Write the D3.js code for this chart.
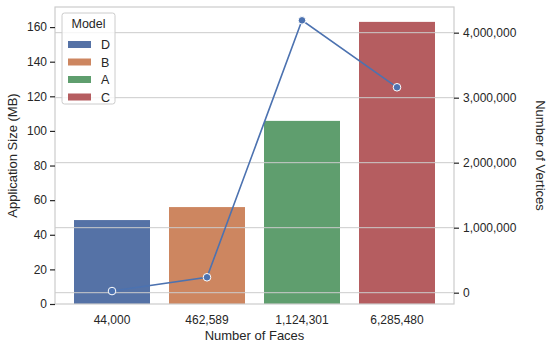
<!DOCTYPE html>
<html>
<head>
<meta charset="utf-8">
<script src="https://cdn.jsdelivr.net/npm/d3@7"></script>
<style>
  body { margin: 0; background: #fff; }
  text { font-family: Arial, "Liberation Sans", sans-serif; fill: #262626; }
</style>
</head>
<body>
<div id="chart"></div>
<script>
// ── Data ─────────────────────────────────────────────────────────────
const faces    = ["44,000", "462,589", "1,124,301", "6,285,480"];
const models   = ["D", "B", "A", "C"];
const sizeMB   = [48.5, 56, 105.8, 163];
const vertices = [25000, 237000, 4190000, 3160000];
const leftTicks  = [0, 20, 40, 60, 80, 100, 120, 140, 160];
const rightTicks = [0, 1000000, 2000000, 3000000, 4000000];
const barColors  = ["#5572a6", "#cd8660", "#5f9e6e", "#b55d60"];

const W = 550, H = 345;
const plot = { left: 55, right: 454, top: 7, bottom: 304 };

const svg = d3.select("#chart").append("svg")
  .attr("width", W).attr("height", H);

// ── Scales ───────────────────────────────────────────────────────────
const x = d3.scaleLinear().domain([-0.6, 3.6]).range([plot.left, plot.right]);
const step = x(1) - x(0);
const yL = d3.scaleLinear().domain([0, 171.6]).range([plot.bottom, plot.top]);
const yR = d3.scaleLinear().domain([-174000, 4395000]).range([plot.bottom, plot.top]);

// ── Bars ─────────────────────────────────────────────────────────────
svg.append("g").selectAll("rect")
  .data(sizeMB)
  .join("rect")
    .attr("x", (d, i) => x(i) - step * 0.4)
    .attr("width", step * 0.8)
    .attr("y", d => yL(d))
    .attr("height", d => yL(0) - yL(d))
    .attr("fill", (d, i) => barColors[i]);

// ── Right-axis grid (drawn over the bars) ────────────────────────────
svg.append("g").selectAll("line")
  .data(rightTicks)
  .join("line")
    .attr("x1", plot.left).attr("x2", plot.right)
    .attr("y1", d => yR(d)).attr("y2", d => yR(d))
    .attr("stroke", "#cccccc").attr("stroke-width", 1);

// ── Frame ────────────────────────────────────────────────────────────
svg.append("rect")
  .attr("x", plot.left).attr("y", plot.top)
  .attr("width", plot.right - plot.left)
  .attr("height", plot.bottom - plot.top)
  .attr("fill", "none")
  .attr("stroke", "#cccccc").attr("stroke-width", 1.2);

// ── Line ─────────────────────────────────────────────────────────────
const line = d3.line().x((d, i) => x(i)).y(d => yR(d));
svg.append("path")
  .datum(vertices)
  .attr("d", line)
  .attr("fill", "none")
  .attr("stroke", "#4c72b0")
  .attr("stroke-width", 1.6);

svg.append("g").selectAll("circle")
  .data(vertices)
  .join("circle")
    .attr("cx", (d, i) => x(i))
    .attr("cy", d => yR(d))
    .attr("r", 3.8)
    .attr("fill", "#4c72b0")
    .attr("stroke", "#ffffff")
    .attr("stroke-width", 1);

// ── Axes ─────────────────────────────────────────────────────────────
function styleAxis(g) {
  g.select(".domain").remove();
  g.selectAll(".tick line").attr("stroke", "#262626").attr("stroke-width", 1.2);
  g.selectAll(".tick text").attr("font-size", "12px").attr("fill", "#262626");
}

svg.append("g")
  .attr("transform", `translate(${plot.left},0)`)
  .call(d3.axisLeft(yL).tickValues(leftTicks).tickSize(5).tickPadding(3))
  .call(styleAxis);

svg.append("g")
  .attr("transform", `translate(${plot.right},0)`)
  .call(d3.axisRight(yR).tickValues(rightTicks).tickSize(5).tickPadding(4)
    .tickFormat(d3.format(",")))
  .call(styleAxis);

svg.append("g").selectAll("text")
  .data(faces)
  .join("text")
    .attr("x", (d, i) => x(i))
    .attr("y", 324)
    .attr("text-anchor", "middle")
    .attr("font-size", "12px")
    .text(d => d);

// ── Axis titles ──────────────────────────────────────────────────────
svg.append("text")
  .attr("x", (plot.left + plot.right) / 2).attr("y", 340)
  .attr("text-anchor", "middle").attr("font-size", "13px")
  .text("Number of Faces");

svg.append("text")
  .attr("transform", `translate(17,${(plot.top + plot.bottom) / 2}) rotate(-90)`)
  .attr("text-anchor", "middle").attr("font-size", "13px")
  .text("Application Size (MB)");

svg.append("text")
  .attr("transform", `translate(536,${(plot.top + plot.bottom) / 2}) rotate(90)`)
  .attr("text-anchor", "middle").attr("font-size", "13px")
  .text("Number of Vertices");

// ── Legend ───────────────────────────────────────────────────────────
const legend = svg.append("g").attr("transform", "translate(62,13)");
legend.append("rect")
  .attr("width", 53).attr("height", 91).attr("rx", 2.5)
  .attr("fill", "#ffffff").attr("fill-opacity", 0.8)
  .attr("stroke", "#cccccc").attr("stroke-width", 1);
legend.append("text")
  .attr("x", 26.5).attr("y", 15)
  .attr("text-anchor", "middle").attr("font-size", "12.5px")
  .text("Model");
const items = legend.selectAll("g.item")
  .data(models)
  .join("g")
    .attr("class", "item")
    .attr("transform", (d, i) => `translate(6,${28 + i * 17.5})`);
items.append("rect")
  .attr("width", 23).attr("height", 7)
  .attr("fill", (d, i) => barColors[i]);
items.append("text")
  .attr("x", 33).attr("y", 8)
  .attr("font-size", "12.5px")
  .text(d => d);
</script>
</body>
</html>
